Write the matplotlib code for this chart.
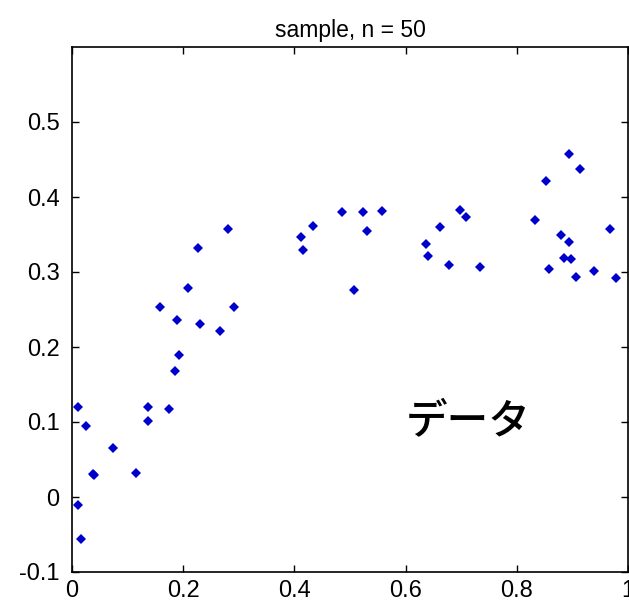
import matplotlib
matplotlib.use("Agg")
import matplotlib.pyplot as plt

plt.rcParams['axes.unicode_minus'] = False
plt.rcParams['font.family'] = ['Liberation Sans', 'DejaVu Sans']

x_vals = [0.281, 0.226, 0.209, 0.158, 0.291, 0.188, 0.230, 0.267, 0.192, 0.185,
          0.411, 0.415,
          0.011, 0.025, 0.137, 0.175, 0.137, 0.073, 0.037, 0.040, 0.115, 0.011, 0.017,
          0.434, 0.486, 0.524, 0.558, 0.531, 0.507, 0.636, 0.640, 0.661, 0.678,
          0.698, 0.709, 0.733, 0.832, 0.852, 0.893, 0.914, 0.879, 0.893, 0.858,
          0.885, 0.897, 0.906, 0.938, 0.968, 0.978]
y_vals = [0.357, 0.332, 0.279, 0.253, 0.253, 0.236, 0.231, 0.221, 0.190, 0.168,
          0.347, 0.329,
          0.120, 0.095, 0.120, 0.117, 0.102, 0.065, 0.031, 0.029, 0.032, -0.011, -0.056,
          0.362, 0.380, 0.380, 0.382, 0.355, 0.276, 0.337, 0.321, 0.360, 0.309,
          0.383, 0.374, 0.307, 0.369, 0.422, 0.458, 0.437, 0.350, 0.340, 0.304,
          0.319, 0.317, 0.294, 0.302, 0.357, 0.292]

title_text = "sample, n = 50"
label_text = "データ"
x_ticks = [0, 0.2, 0.4, 0.6, 0.8, 1]
x_tick_labels = ["0", "0.2", "0.4", "0.6", "0.8", "1"]
y_ticks = [-0.1, 0, 0.1, 0.2, 0.3, 0.4, 0.5]
y_tick_labels = ["-0.1", "0", "0.1", "0.2", "0.3", "0.4", "0.5"]

fig = plt.figure(figsize=(6.29, 6.06), dpi=100)
ax = fig.add_axes([72/629, 34/606, 556/629, (572-47)/606])
ax.plot(x_vals, y_vals, linestyle='none', marker='D', markersize=5.5,
        color='#0000cc', markeredgewidth=0)
ax.set_xlim(0, 1)
ax.set_ylim(-0.1, 0.6)
ax.set_xticks(x_ticks)
ax.set_xticklabels(x_tick_labels)
ax.set_yticks(y_ticks)
ax.set_yticklabels(y_tick_labels)
ax.tick_params(direction='in', length=5, width=1, top=True, right=True,
               labelsize=17)
ax.tick_params(axis='x', pad=6)
ax.tick_params(axis='y', pad=9)
for s in ax.spines.values():
    s.set_linewidth(1.2)
ax.set_title(title_text, fontsize=16.5, pad=7)
ax.text(0.6, 0.1, label_text, fontsize=30, ha='left', va='center',
        fontweight='medium', family=['Noto Sans CJK JP', 'DejaVu Sans'])
fig.savefig("out.png", dpi=100)
